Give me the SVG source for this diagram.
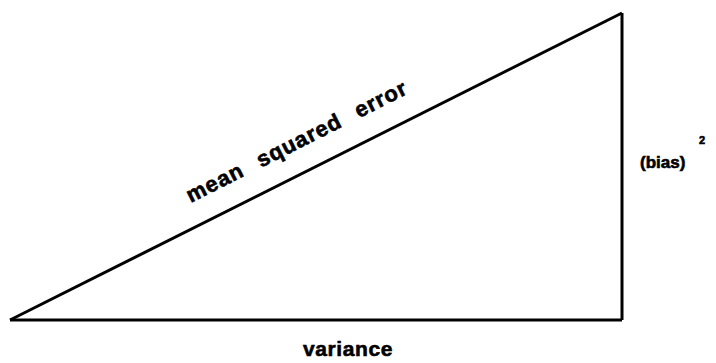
<svg xmlns="http://www.w3.org/2000/svg" width="716" height="363" viewBox="0 0 716 363">
<style>
.t{font-family:"Liberation Sans",Arial,sans-serif;font-weight:bold;fill:#000;stroke:#000;stroke-width:0.6}
.e{fill:none;stroke:#000;stroke-width:3;stroke-linejoin:miter}
</style>
<rect width="716" height="363" fill="#fff"/>
<g id="connectors">
<path class="e" d="M10,320 L622,13"/>
<path class="e" d="M10,320 L622,320"/>
<path class="e" d="M622,13 L622,320"/>
</g>
<g id="hyp-label"><text class="t" font-size="22" letter-spacing="1" word-spacing="10" text-anchor="middle" transform="translate(300,148) rotate(-26.7)">mean squared error</text></g>
<g id="bias-label"><text class="t" font-size="17" x="640" y="168">(bias)</text><text class="t" font-size="11" x="699" y="144">2</text></g>
<g id="variance-label"><text class="t" font-size="21" letter-spacing="0.6" text-anchor="middle" x="348" y="356">variance</text></g>
</svg>
